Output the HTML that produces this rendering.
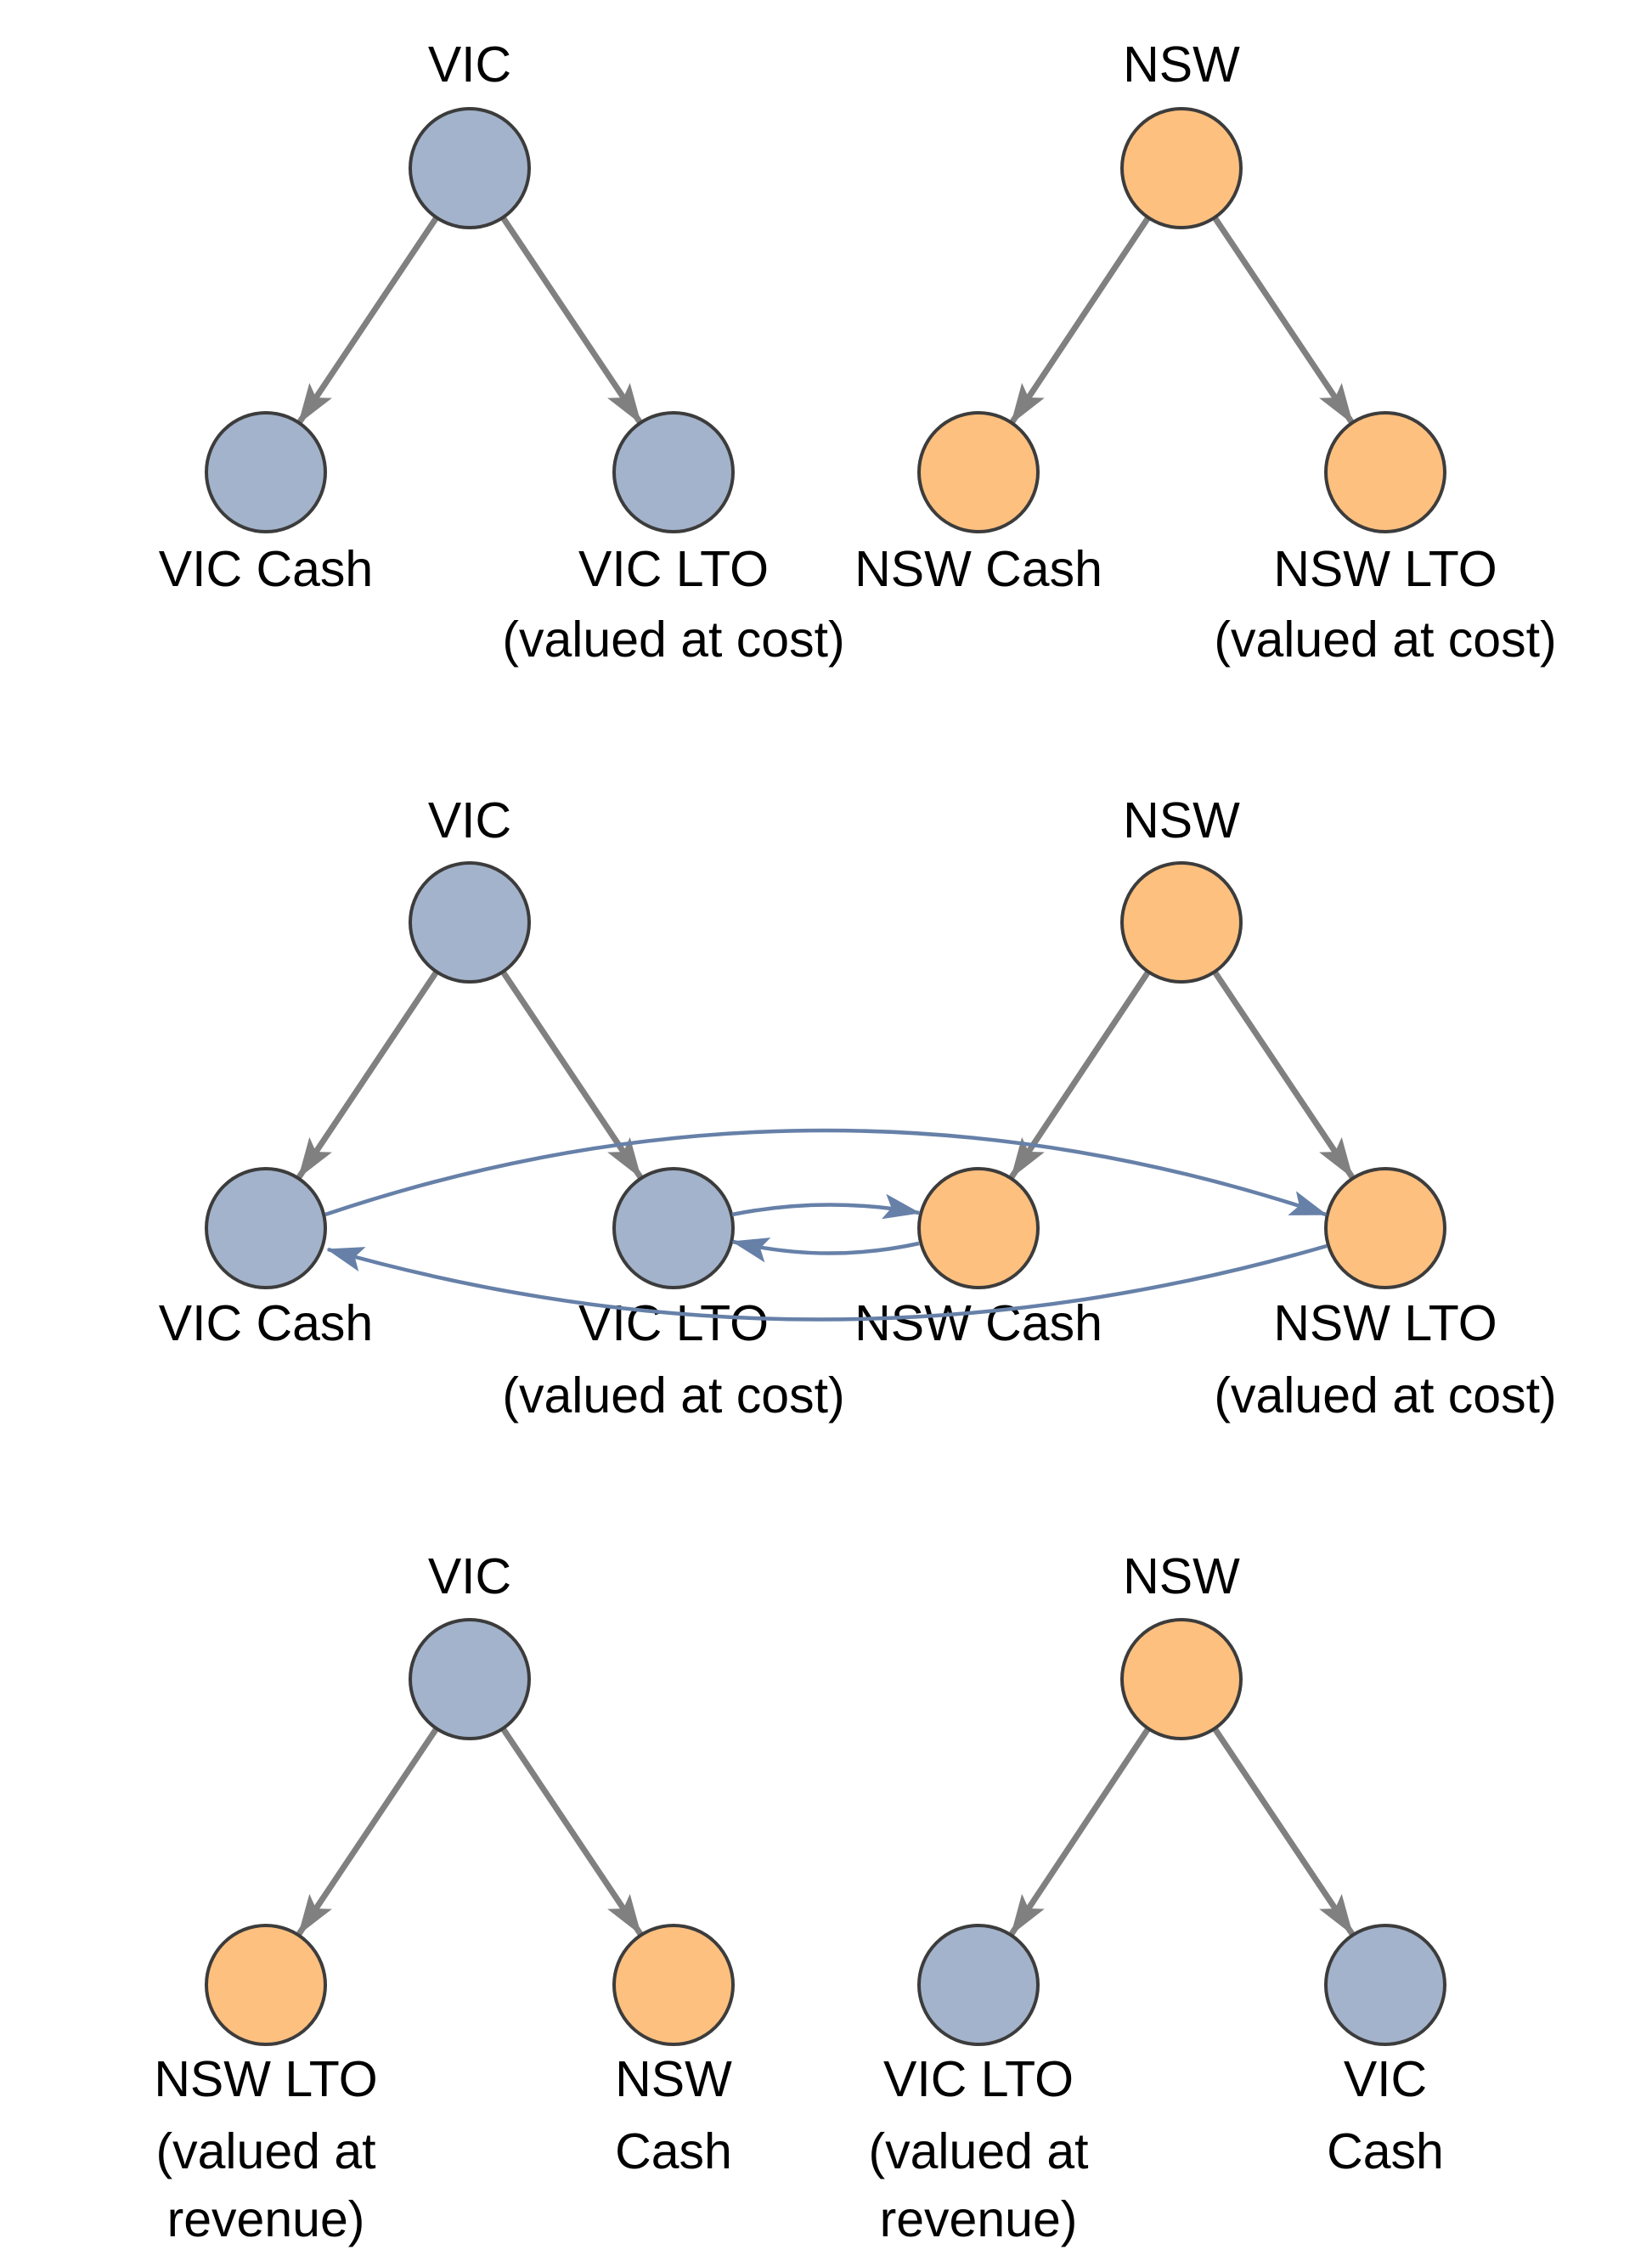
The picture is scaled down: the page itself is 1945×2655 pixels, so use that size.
<!DOCTYPE html>
<html><head><meta charset="utf-8"><style>
html,body{margin:0;padding:0;background:#fff}
svg{display:block}
text{font-family:"Liberation Sans",sans-serif;font-size:59px;fill:#000;text-anchor:middle}
.b{fill:#a3b3cb;stroke:#3c3c3c;stroke-width:4}
.o{fill:#fec07f;stroke:#3c3c3c;stroke-width:4}
.g{stroke:#808080;stroke-width:7;fill:none;marker-end:url(#ga)}
.bl{stroke:#6680a8;stroke-width:4.5;fill:none;marker-end:url(#ba)}
</style></head><body>
<svg width="1945" height="2655" viewBox="0 0 1945 2655" xmlns="http://www.w3.org/2000/svg">
<defs>
<marker id="ga" markerUnits="userSpaceOnUse" markerWidth="48" markerHeight="32" viewBox="0 0 48 32" refX="46" refY="16" orient="auto"><path d="M0,0 L48,16 L0,32 L10,16 z" fill="#808080"/></marker>
<marker id="ba" markerUnits="userSpaceOnUse" markerWidth="44" markerHeight="30" viewBox="0 0 44 30" refX="42" refY="15" orient="auto"><path d="M0,0 L44,15 L0,30 L9,15 z" fill="#6680a8"/></marker>
</defs>

<!-- Row 1 -->
<path class="g" d="M514,256 L352,498"/>
<path class="g" d="M592,256 L754,498"/>
<path class="g" d="M1352,256 L1191,498"/>
<path class="g" d="M1430,256 L1592,498"/>
<circle class="b" cx="553" cy="198" r="70"/>
<circle class="b" cx="313" cy="556" r="70"/>
<circle class="b" cx="793" cy="556" r="70"/>
<circle class="o" cx="1391" cy="198" r="70"/>
<circle class="o" cx="1152" cy="556" r="70"/>
<circle class="o" cx="1631" cy="556" r="70"/>
<text x="553" y="96">VIC</text>
<text x="1391" y="96">NSW</text>
<text x="313" y="690">VIC Cash</text>
<text x="793" y="690">VIC LTO</text>
<text x="793" y="773">(valued at cost)</text>
<text x="1152" y="690">NSW Cash</text>
<text x="1631" y="690">NSW LTO</text>
<text x="1631" y="773">(valued at cost)</text>

<!-- Row 2 -->
<path class="g" d="M514,1144 L352,1386"/>
<path class="g" d="M592,1144 L754,1386"/>
<path class="g" d="M1352,1144 L1191,1386"/>
<path class="g" d="M1430,1144 L1592,1386"/>
<circle class="b" cx="553" cy="1086" r="70"/>
<circle class="b" cx="313" cy="1446" r="70"/>
<circle class="b" cx="793" cy="1446" r="70"/>
<circle class="o" cx="1391" cy="1086" r="70"/>
<circle class="o" cx="1152" cy="1446" r="70"/>
<circle class="o" cx="1631" cy="1446" r="70"/>
<text x="553" y="986">VIC</text>
<text x="1391" y="986">NSW</text>
<text x="313" y="1578">VIC Cash</text>
<text x="793" y="1578">VIC LTO</text>
<text x="793" y="1663">(valued at cost)</text>
<text x="1152" y="1578">NSW Cash</text>
<text x="1631" y="1578">NSW LTO</text>
<text x="1631" y="1663">(valued at cost)</text>
<path class="bl" d="M383,1430 Q971,1232 1561,1430"/>
<path class="bl" d="M1562,1467 Q971,1638 386,1471"/>
<path class="bl" d="M862,1430 Q972,1408 1082,1428"/>
<path class="bl" d="M1082,1464 Q972,1488 863,1462"/>

<!-- Row 3 -->
<path class="g" d="M514,2035 L352,2277"/>
<path class="g" d="M592,2035 L754,2277"/>
<path class="g" d="M1352,2035 L1191,2277"/>
<path class="g" d="M1430,2035 L1592,2277"/>
<circle class="b" cx="553" cy="1977" r="70"/>
<circle class="o" cx="313" cy="2337" r="70"/>
<circle class="o" cx="793" cy="2337" r="70"/>
<circle class="o" cx="1391" cy="1977" r="70"/>
<circle class="b" cx="1152" cy="2337" r="70"/>
<circle class="b" cx="1631" cy="2337" r="70"/>
<text x="553" y="1876">VIC</text>
<text x="1391" y="1876">NSW</text>
<text x="313" y="2468">NSW LTO</text>
<text x="313" y="2553">(valued at</text>
<text x="313" y="2633">revenue)</text>
<text x="793" y="2468">NSW</text>
<text x="793" y="2553">Cash</text>
<text x="1152" y="2468">VIC LTO</text>
<text x="1152" y="2553">(valued at</text>
<text x="1152" y="2633">revenue)</text>
<text x="1631" y="2468">VIC</text>
<text x="1631" y="2553">Cash</text>
</svg>
</body></html>
